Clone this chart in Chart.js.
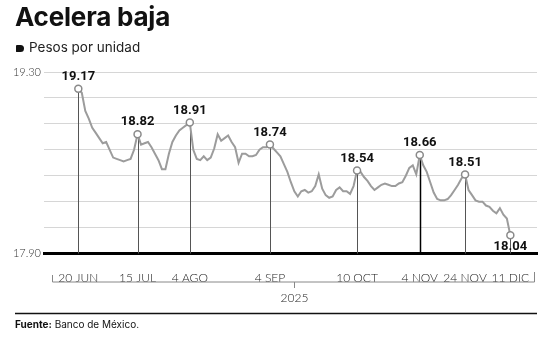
<!DOCTYPE html>
<html>
<head>
<meta charset="utf-8">
<script src="https://cdn.jsdelivr.net/npm/chart.js@4.4.1/dist/chart.umd.min.js"></script>
<style>
  html, body { margin: 0; padding: 0; background: #fff; }
  #wrap { position: relative; width: 551px; height: 339px; overflow: hidden; }
  #c { position: absolute; left: 0; top: 0; }
  .title { position: absolute; left: 15px; top: 4px; font: 700 26px/26px Inter, sans-serif; color: #111; letter-spacing: -0.2px; }
  .sub { position: absolute; left: 29px; top: 41px; font: 400 13.5px/13px Inter, sans-serif; color: #222; }
  .bullet { position: absolute; left: 16px; top: 45px; width: 8px; height: 7px; background: #111; border-radius: 1px 4px 4px 1px; }
  .foot { position: absolute; left: 15px; top: 319px; font: 400 10px/10px Inter, sans-serif; color: #111; }
</style>
</head>
<body>
<div id="wrap">
  <canvas id="c" width="551" height="339"></canvas>
  <div class="title">Acelera baja</div>
  <div class="bullet"></div>
  <div class="sub">Pesos por unidad</div>
  <div class="foot"><b>Fuente:</b> Banco de México.</div>
</div>
<script>
// tipo de cambio diario (pesos por dólar), 20 jun -> 11 dic 2025
const values = [
  19.17, 19.14, 19.00, 18.94, 18.87, 18.83, 18.79, 18.75, 18.76, 18.70,
  18.64, 18.63, 18.62, 18.61, 18.62, 18.63, 18.70, 18.82, 18.74, 18.75,
  18.76, 18.72, 18.67, 18.62, 18.55, 18.55, 18.67, 18.76, 18.81, 18.85,
  18.87, 18.89, 18.91, 18.70, 18.63, 18.62, 18.65, 18.62, 18.64, 18.71,
  18.82, 18.77, 18.79, 18.81, 18.76, 18.72, 18.60, 18.67, 18.67, 18.65,
  18.65, 18.66, 18.70, 18.72, 18.72, 18.74, 18.71, 18.68, 18.65, 18.59,
  18.53, 18.45, 18.38, 18.34, 18.38, 18.39, 18.37, 18.38, 18.42, 18.51,
  18.40, 18.35, 18.33, 18.34, 18.39, 18.41, 18.38, 18.38, 18.36, 18.42,
  18.54, 18.53, 18.49, 18.46, 18.42, 18.39, 18.41, 18.43, 18.44, 18.43,
  18.42, 18.42, 18.44, 18.45, 18.50, 18.56, 18.58, 18.51, 18.66, 18.58,
  18.53, 18.45, 18.37, 18.32, 18.31, 18.31, 18.32, 18.35, 18.39, 18.43,
  18.48, 18.51, 18.39, 18.35, 18.31, 18.30, 18.30, 18.27, 18.26, 18.23,
  18.21, 18.25, 18.20, 18.17, 18.04
];

// fechas marcadas (indice dentro de la serie) y su etiqueta
const markIdx = [0, 17, 32, 55, 80, 98, 111, 124];
const xLabels = ['20 JUN', '15 JUL', '4 AGO', '4 SEP', '10 OCT', '4 NOV', '24 NOV', '11 DIC'];
const yearLabel = '2025';

// eje y
const yTicks = [17.90, 18.10, 18.30, 18.50, 18.70, 18.90, 19.10, 19.30];
const yShown = ['17.90', '19.30'];

const Y_MIN = 17.90, Y_MAX = 19.30;
const X_MIN = -9.85, X_MAX = 131.65;

const points = values.map((v, i) => ({ x: i, y: v }));

// lineas verticales + etiquetas de los puntos marcados
const marksPlugin = {
  id: 'marks',
  beforeDatasetsDraw(chart) {
    const { ctx, scales: { x, y } } = chart;
    ctx.save();
    markIdx.forEach((idx, k) => {
      const px = Math.round(x.getPixelForValue(idx)) + 0.5;
      const top = y.getPixelForValue(values[idx]);
      const strong = xLabels[k] === '4 NOV';
      ctx.strokeStyle = strong ? '#000' : '#555';
      ctx.lineWidth = strong ? 1.5 : 1;
      ctx.beginPath();
      ctx.moveTo(px, top);
      ctx.lineTo(px, y.getPixelForValue(Y_MIN));
      ctx.stroke();
    });
    ctx.restore();
  },
  afterDatasetsDraw(chart) {
    const { ctx, scales: { x, y } } = chart;
    ctx.save();
    ctx.font = '700 13px Roboto, sans-serif';
    ctx.fillStyle = '#111';
    ctx.textAlign = 'center';
    ctx.textBaseline = 'middle';
    markIdx.forEach((idx, k) => {
      const px = x.getPixelForValue(idx);
      const py = y.getPixelForValue(values[idx]);
      const last = k === markIdx.length - 1;
      ctx.fillText(values[idx].toFixed(2), px, last ? py + 11 : py - 12);
    });
    ctx.restore();
  },
  afterDraw(chart) {
    // corchete del año bajo las fechas
    const { ctx, chartArea: a } = chart;
    const l = a.left + 8.5, r = a.right - 2.5, by = a.bottom + 28.5;
    const mid = Math.round((l + r) / 2) + 0.5;
    ctx.save();
    ctx.strokeStyle = '#888';
    ctx.lineWidth = 1;
    ctx.beginPath();
    ctx.moveTo(l, by - 7); ctx.lineTo(l, by); ctx.lineTo(r, by); ctx.lineTo(r, by - 10);
    ctx.moveTo(mid, by); ctx.lineTo(mid, by + 6);
    ctx.stroke();
    ctx.fillStyle = '#222';
    ctx.font = '300 12px Lato, sans-serif';
    ctx.textAlign = 'center';
    ctx.textBaseline = 'middle';
    ctx.fillText(yearLabel, mid, by + 16);
    // linea de la fuente
    ctx.strokeStyle = '#111';
    ctx.lineWidth = 1.5;
    ctx.beginPath();
    ctx.moveTo(15, 313.5);
    ctx.lineTo(a.right, 313.5);
    ctx.stroke();
    ctx.restore();
  }
};

new Chart(document.getElementById('c'), {
  type: 'line',
  data: {
    datasets: [{
      data: points,
      borderColor: '#9c9c9c',
      borderWidth: 2,
      tension: 0,
      pointRadius: ctx => markIdx.includes(ctx.dataIndex) ? 3.5 : 0,
      pointBackgroundColor: '#fff',
      pointBorderColor: '#8a8a8a',
      pointBorderWidth: 1.5
    }]
  },
  options: {
    responsive: false,
    animation: false,
    devicePixelRatio: 1,
    layout: { padding: { top: 72, right: 14, left: 0, bottom: 0 } },
    plugins: { legend: { display: false }, tooltip: { enabled: false } },
    scales: {
      x: {
        type: 'linear',
        min: X_MIN,
        max: X_MAX,
        grid: { display: false },
        border: { display: true, color: '#000', width: 3 },
        afterBuildTicks: s => { s.ticks = markIdx.map(v => ({ value: v })); },
        afterFit: s => { s.height = 85.5; },
        ticks: {
          autoSkip: false,
          maxRotation: 0,
          padding: 9,
          color: '#222',
          font: { family: 'Lato', size: 12, weight: '300' },
          callback: v => xLabels[markIdx.indexOf(v)] || ''
        }
      },
      y: {
        min: Y_MIN,
        max: Y_MAX,
        grid: { color: '#d6d6d6', lineWidth: 1, drawTicks: false },
        border: { display: false },
        afterBuildTicks: s => { s.ticks = yTicks.map(v => ({ value: v })); },
        afterFit: s => { s.width = 44; },
        ticks: {
          padding: 3,
          color: '#333',
          font: { family: 'Lato', size: 11, weight: '300' },
          callback: v => {
            const t = v.toFixed(2);
            return yShown.includes(t) ? t : '';
          }
        }
      }
    }
  },
  plugins: [marksPlugin]
});
</script>
</body>
</html>
